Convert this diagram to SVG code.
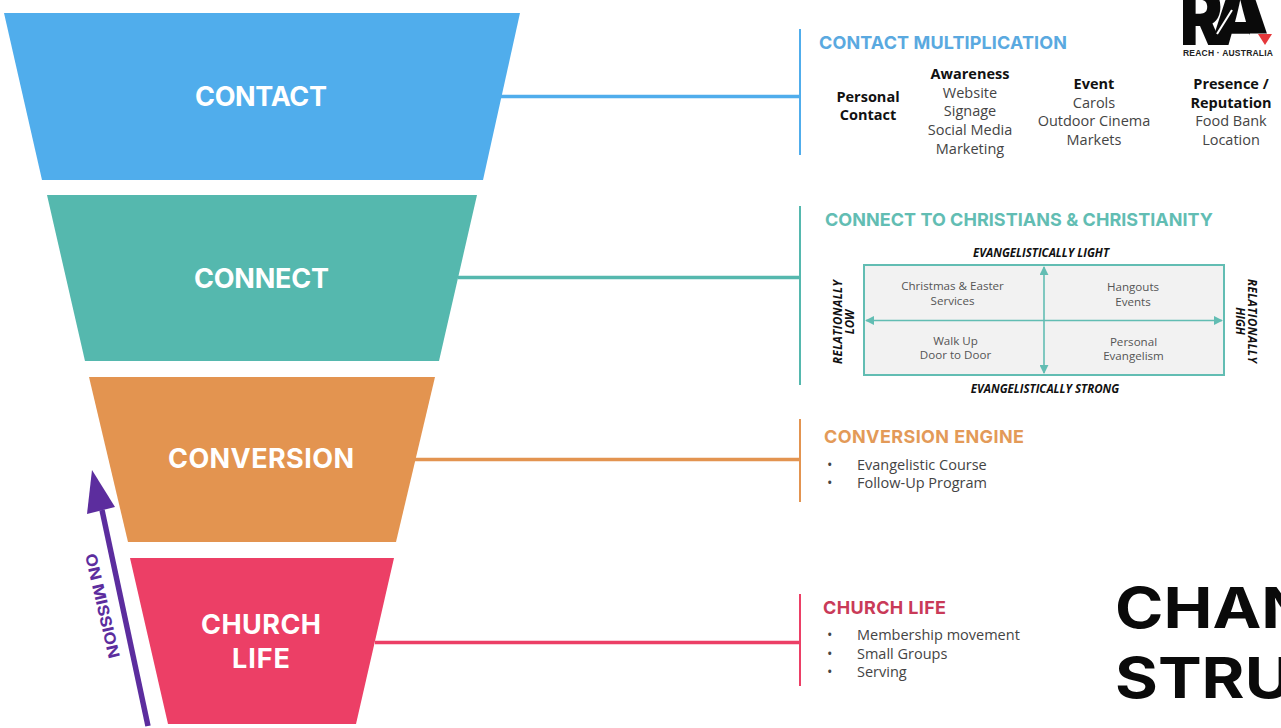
<svg xmlns="http://www.w3.org/2000/svg" width="1281" height="728" viewBox="0 0 1281 728">
<style>
.f{font-family:Inter,"Liberation Sans",sans-serif;font-weight:700;fill:#fff;font-size:27px;text-anchor:middle}
.h{font-family:Inter,"Liberation Sans",sans-serif;font-weight:700;font-size:18px}
.b{font-family:"Open Sans","Liberation Sans",sans-serif;font-size:14.5px;fill:#444;text-anchor:middle}
.bb{font-family:"Open Sans","Liberation Sans",sans-serif;font-size:14.5px;font-weight:700;fill:#111;text-anchor:middle}
.l{font-family:"Open Sans","Liberation Sans",sans-serif;font-size:14.5px;fill:#444}
.q{font-family:"Open Sans","Liberation Sans",sans-serif;font-size:11.600px;fill:#555;text-anchor:middle}
.a{font-family:"Open Sans","Liberation Sans",sans-serif;font-size:11.500px;font-weight:700;font-style:italic;fill:#111;text-anchor:middle}
.c{fill:none;stroke-width:3.5}
.v{fill:none;stroke-width:2}
.t{fill:none;stroke:#62bdb3;stroke-width:1.6}
</style>
<defs>
<marker id="m" viewBox="0 0 10 10" refX="9" refY="5" markerWidth="9" markerHeight="9" orient="auto-start-reverse" markerUnits="userSpaceOnUse"><path d="M0 0L10 5L0 10Z" fill="#62bdb3"/></marker>
</defs>
<rect width="1281" height="728" fill="#fff"/>
<g id="connectors">
<path class="c" stroke="#50adec" d="M500 96.500H800"/>
<path class="c" stroke="#55b8ae" d="M458 277.500H800"/>
<path class="c" stroke="#e39450" d="M415 459.500H800"/>
<path class="c" stroke="#ec3f66" d="M375 642.500H800"/>
<path class="v" stroke="#50adec" d="M800 29V155"/>
<path class="v" stroke="#55b8ae" d="M800 206V385"/>
<path class="v" stroke="#e39450" d="M800 419V502"/>
<path class="v" stroke="#ec3f66" d="M800 594V686"/>
</g>
<g id="contact"><polygon points="4,13 520,13 483,180 42,180" fill="#50adec"/><text class="f" x="261" y="106" textLength="132">CONTACT</text></g>
<g id="connect"><polygon points="47,195 477,195 439,361 85,361" fill="#55b8ae"/><text class="f" x="261.500" y="288" textLength="135">CONNECT</text></g>
<g id="conversion"><polygon points="89,377 435,377 396,542 128,542" fill="#e39450"/><text class="f" x="261" y="468" textLength="186">CONVERSION</text></g>
<g id="church-life"><polygon points="130,558 394,558 356,724 168,724" fill="#ec3f66"/><text class="f" x="261" y="634" textLength="120">CHURCH</text><text class="f" x="261" y="668" textLength="58">LIFE</text></g>
<g id="on-mission">
<path d="M148 726L102 510" stroke="#5c2d9e" stroke-width="5.500" fill="none"/>
<polygon points="92,470 87,514 115,507" fill="#5c2d9e"/>
<text transform="translate(85 555) rotate(77)" font-family="Inter,'Liberation Sans',sans-serif" font-weight="700" font-size="15.500" fill="#5c2d9e" textLength="107" lengthAdjust="spacingAndGlyphs">ON MISSION</text>
</g>
<g id="contact-detail">
<text class="h" x="819" y="49" fill="#5aa9e0" textLength="248">CONTACT MULTIPLICATION</text>
<text class="bb" x="868" y="102">Personal</text><text class="bb" x="868" y="120">Contact</text>
<text class="bb" x="970" y="79">Awareness</text><text class="b" x="970" y="98">Website</text><text class="b" x="970" y="116">Signage</text><text class="b" x="970" y="135">Social Media</text><text class="b" x="970" y="154">Marketing</text>
<text class="bb" x="1094" y="89">Event</text><text class="b" x="1094" y="108">Carols</text><text class="b" x="1094" y="126">Outdoor Cinema</text><text class="b" x="1094" y="145">Markets</text>
<text class="bb" x="1231" y="89">Presence /</text><text class="bb" x="1231" y="108">Reputation</text><text class="b" x="1231" y="126">Food Bank</text><text class="b" x="1231" y="145">Location</text>
</g>
<g id="connect-detail">
<text class="h" x="825" y="226" fill="#62bdb3" textLength="388">CONNECT TO CHRISTIANS &amp; CHRISTIANITY</text>
<rect x="864" y="265" width="360" height="110" fill="#f2f2f2" stroke="#62bdb3" stroke-width="2"/>
<path class="t" d="M1044 267V373" marker-start="url(#m)" marker-end="url(#m)"/>
<path class="t" d="M866 320.500H1222" marker-start="url(#m)" marker-end="url(#m)"/>
<text class="q" x="952.500" y="290">Christmas &amp; Easter</text><text class="q" x="952.500" y="305">Services</text>
<text class="q" x="1133" y="291">Hangouts</text><text class="q" x="1133" y="306">Events</text>
<text class="q" x="955.500" y="345">Walk Up</text><text class="q" x="955.500" y="359">Door to Door</text>
<text class="q" x="1133.500" y="346">Personal</text><text class="q" x="1133.500" y="360">Evangelism</text>
<text class="a" x="1041" y="257">EVANGELISTICALLY LIGHT</text>
<text class="a" x="1045" y="393">EVANGELISTICALLY STRONG</text>
<text class="a" transform="translate(842 322) rotate(-90)" textLength="84">RELATIONALLY</text>
<text class="a" transform="translate(854 322) rotate(-90)">LOW</text>
<text class="a" transform="translate(1248 321) rotate(90)" textLength="84">RELATIONALLY</text>
<text class="a" transform="translate(1236 321) rotate(90)">HIGH</text>
</g>
<g id="conversion-detail">
<text class="h" x="824" y="443" fill="#e39a58" textLength="200">CONVERSION ENGINE</text>
<text class="l" x="827" y="470">•</text><text class="l" x="857" y="470">Evangelistic Course</text>
<text class="l" x="827" y="488">•</text><text class="l" x="857" y="488">Follow-Up Program</text>
</g>
<g id="church-detail">
<text class="h" x="823" y="614" fill="#c93a58" textLength="123">CHURCH LIFE</text>
<text class="l" x="827" y="640">•</text><text class="l" x="857" y="640">Membership movement</text>
<text class="l" x="827" y="659">•</text><text class="l" x="857" y="659">Small Groups</text>
<text class="l" x="827" y="677">•</text><text class="l" x="857" y="677">Serving</text>
</g>
<g id="title" font-family="Inter,'Liberation Sans',sans-serif" font-weight="700" font-size="56" fill="#0a0a0a">
<text transform="translate(1115 628) scale(1.17 1)">CHAN</text><text transform="translate(1115 698) scale(1.17 1)">STRU</text>
</g>
<g id="logo">
<text transform="translate(1180 45) scale(0.8 1)" font-family="Inter,'Liberation Sans',sans-serif" font-weight="900" font-size="80" fill="#0a0a0a">R</text>
<text x="1209" y="45" font-family="Inter,'Liberation Sans',sans-serif" font-weight="900" font-size="80" fill="#0a0a0a">A</text>
<path d="M1232 10L1217 34" stroke="#fff" stroke-width="2" fill="none"/>
<polygon points="1250,33.500 1276,33.500 1276,46 1250,46" fill="#fff"/>
<polygon points="1258,34 1272,34 1265,45" fill="#e5383b"/>
<text x="1228" y="56" font-family="'Liberation Sans',sans-serif" font-weight="700" font-size="8.500" fill="#222" text-anchor="middle" textLength="90">REACH · AUSTRALIA</text>
</g>
</svg>
